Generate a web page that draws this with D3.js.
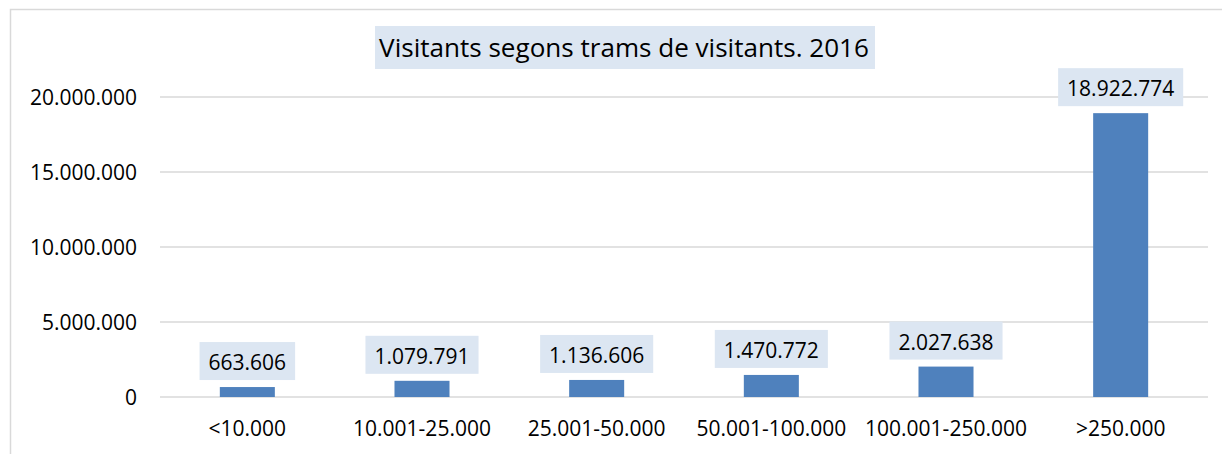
<!DOCTYPE html>
<html>
<head>
<meta charset="utf-8">
<script src="https://cdn.jsdelivr.net/npm/d3@7"></script>
<style>
  body { margin: 0; background: #fff; }
  svg { display: block; font-family: "Open Sans", sans-serif; }
</style>
</head>
<body>
<svg id="chart" width="1222" height="454"></svg>
<script>
var categories = ['<10.000', '10.001-25.000', '25.001-50.000', '50.001-100.000', '100.001-250.000', '>250.000'];
var visitants = [663606, 1079791, 1136606, 1470772, 2027638, 18922774];
var yTicks = [0, 5000000, 10000000, 15000000, 20000000];
var title = 'Visitants segons trams de visitants. 2016';

var chart = d3.select('#chart');

// plot area bounds
var plotLeft = 160, plotRight = 1208, plotTop = 97, plotBottom = 397;

var fmt = function(v) {
  return String(v).replace(/\B(?=(\d{3})+(?!\d))/g, '.');
};

var x = d3.scaleBand().domain(categories).range([plotLeft, plotRight]).paddingInner(0.685).paddingOuter(0.3425);
var y = d3.scaleLinear().domain([0, 20000000]).range([plotBottom, plotTop]);

// outer frame (only left/top visible in the crop)
chart.append('rect')
  .attr('x', 10.5).attr('y', 9.5)
  .attr('width', 1230).attr('height', 460)
  .attr('fill', 'none').attr('stroke', '#d9d9d9').attr('stroke-width', 1.5);

// gridlines
chart.append('g').selectAll('line').data(yTicks).enter().append('line')
  .attr('x1', plotLeft).attr('x2', plotRight)
  .attr('y1', function(d) { return y(d); }).attr('y2', function(d) { return y(d); })
  .attr('stroke', '#d9d9d9').attr('stroke-width', 1.5);

// y axis labels
var yAxis = chart.append('g')
  .attr('transform', 'translate(' + (plotLeft - 23) + ',0)')
  .call(d3.axisLeft(y).tickValues(yTicks).tickFormat(fmt).tickSize(0).tickPadding(0));
yAxis.select('.domain').remove();
yAxis.selectAll('text').attr('font-size', 21).attr('font-family', '"Open Sans", sans-serif')
  .attr('fill', '#000').attr('dy', '0.36em');

// x axis labels
var xAxis = chart.append('g')
  .attr('transform', 'translate(0,' + plotBottom + ')')
  .call(d3.axisBottom(x).tickSize(0).tickPadding(0));
xAxis.select('.domain').remove();
xAxis.selectAll('text').attr('font-size', 21).attr('font-family', '"Open Sans", sans-serif')
  .attr('fill', '#000').attr('dy', null).attr('y', 39);

// bars
chart.append('g').selectAll('rect').data(visitants).enter().append('rect')
  .attr('x', function(d, i) { return x(categories[i]); })
  .attr('width', x.bandwidth())
  .attr('y', function(d) { return y(d); })
  .attr('height', function(d) { return plotBottom - y(d); })
  .attr('fill', '#4f81bd');

// data labels with shaded boxes
var labels = chart.append('g').selectAll('g').data(visitants).enter().append('g');
labels.each(function(d, i) {
  var g = d3.select(this);
  var cx = x(categories[i]) + x.bandwidth() / 2;
  var boxBottom = y(d) - 7;
  var rect = g.append('rect').attr('fill', '#dce6f2');
  var t = g.append('text')
    .attr('x', cx).attr('y', boxBottom - 10)
    .attr('text-anchor', 'middle')
    .attr('font-size', 21)
    .attr('fill', '#000')
    .text(fmt(d));
  var w = t.node().getComputedTextLength();
  rect.attr('x', cx - w / 2 - 9).attr('width', w + 18)
    .attr('y', boxBottom - 38).attr('height', 38);
});

// title, sized to fill its box
var tg = chart.append('g');
var tRect = tg.append('rect').attr('fill', '#dce6f2');
var tText = tg.append('text')
  .attr('x', 624).attr('y', 57)
  .attr('text-anchor', 'middle')
  .attr('font-size', 24)
  .attr('fill', '#000')
  .text(title);
var tw = tText.node().getComputedTextLength();
tText.attr('font-size', 24 * 490 / tw);
tRect.attr('x', 375).attr('width', 500).attr('y', 26).attr('height', 43);
</script>
</body>
</html>
